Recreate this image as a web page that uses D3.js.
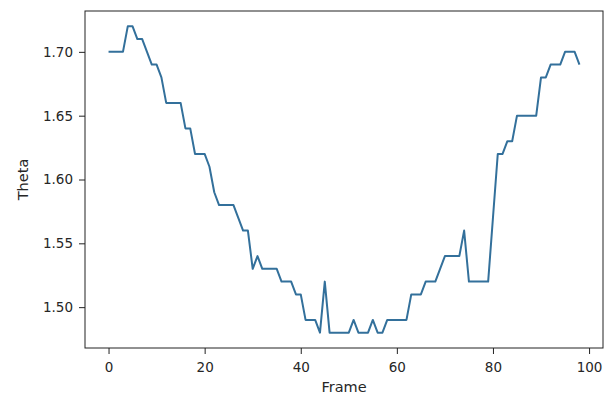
<!DOCTYPE html>
<html>
<head>
<meta charset="utf-8">
<script src="https://cdn.jsdelivr.net/npm/d3@7"></script>
<style>
  html, body { margin: 0; padding: 0; background: #fff; }
  svg { display: block; }
  text { font-family: "DejaVu Sans", sans-serif; fill: #262626; }
</style>
</head>
<body>
<svg id="chart" width="606" height="398"></svg>
<script>
// theta per frame
const frames = d3.range(0, 99);
const theta = [
  1.70, 1.70, 1.70, 1.70, 1.72, 1.72, 1.71, 1.71, 1.70, 1.69,
  1.69, 1.68, 1.66, 1.66, 1.66, 1.66, 1.64, 1.64, 1.62, 1.62,
  1.62, 1.61, 1.59, 1.58, 1.58, 1.58, 1.58, 1.57, 1.56, 1.56,
  1.53, 1.54, 1.53, 1.53, 1.53, 1.53, 1.52, 1.52, 1.52, 1.51,
  1.51, 1.49, 1.49, 1.49, 1.48, 1.52, 1.48, 1.48, 1.48, 1.48,
  1.48, 1.49, 1.48, 1.48, 1.48, 1.49, 1.48, 1.48, 1.49, 1.49,
  1.49, 1.49, 1.49, 1.51, 1.51, 1.51, 1.52, 1.52, 1.52, 1.53,
  1.54, 1.54, 1.54, 1.54, 1.56, 1.52, 1.52, 1.52, 1.52, 1.52,
  1.57, 1.62, 1.62, 1.63, 1.63, 1.65, 1.65, 1.65, 1.65, 1.65,
  1.68, 1.68, 1.69, 1.69, 1.69, 1.70, 1.70, 1.70, 1.69
];
const xTicks = [0, 20, 40, 60, 80, 100];
const yTicks = [1.50, 1.55, 1.60, 1.65, 1.70];
const xLabel = 'Frame';
const yLabel = 'Theta';

const svg = d3.select('#chart');
const box = { left: 85, right: 603, top: 11, bottom: 348 };

// matplotlib style 5% margins
const xExt = d3.extent(frames), yExt = d3.extent(theta);
const xPad = (xExt[1] - xExt[0]) * 0.05;
const yPad = (yExt[1] - yExt[0]) * 0.05;

const x = d3.scaleLinear()
  .domain([xExt[0] - xPad, xExt[1] + xPad])
  .range([box.left, box.right]);
const y = d3.scaleLinear()
  .domain([yExt[0] - yPad, yExt[1] + yPad])
  .range([box.bottom, box.top]);

const line = d3.line()
  .x((d, i) => x(frames[i]))
  .y(d => y(d));

svg.append('path')
  .datum(theta)
  .attr('fill', 'none')
  .attr('stroke', '#33709b')
  .attr('stroke-width', 2)
  .attr('stroke-linejoin', 'round')
  .attr('d', line);

// axes
const xAxis = svg.append('g')
  .attr('transform', `translate(0,${box.bottom})`)
  .call(d3.axisBottom(x).tickValues(xTicks).tickSize(6).tickPadding(8).tickFormat(d3.format('d')));

const yAxis = svg.append('g')
  .attr('transform', `translate(${box.left},0)`)
  .call(d3.axisLeft(y).tickValues(yTicks).tickSize(6).tickPadding(6).tickFormat(d3.format('.2f')));

[xAxis, yAxis].forEach(g => {
  g.select('.domain').remove();
  g.selectAll('line').attr('stroke', '#222');
  g.selectAll('text').attr('font-size', '13.5px').attr('fill', '#262626')
    .style('font-family', '"DejaVu Sans", sans-serif');
});

// frame box
svg.append('rect')
  .attr('x', box.left).attr('y', box.top)
  .attr('width', box.right - box.left).attr('height', box.bottom - box.top)
  .attr('fill', 'none')
  .attr('stroke', '#222')
  .attr('stroke-width', 1);

svg.append('text')
  .attr('x', (box.left + box.right) / 2)
  .attr('y', 392)
  .attr('text-anchor', 'middle')
  .attr('font-size', '14.5px')
  .text(xLabel);

svg.append('text')
  .attr('transform', `translate(28,${(box.top + box.bottom) / 2}) rotate(-90)`)
  .attr('text-anchor', 'middle')
  .attr('font-size', '14.5px')
  .text(yLabel);
</script>
</body>
</html>
